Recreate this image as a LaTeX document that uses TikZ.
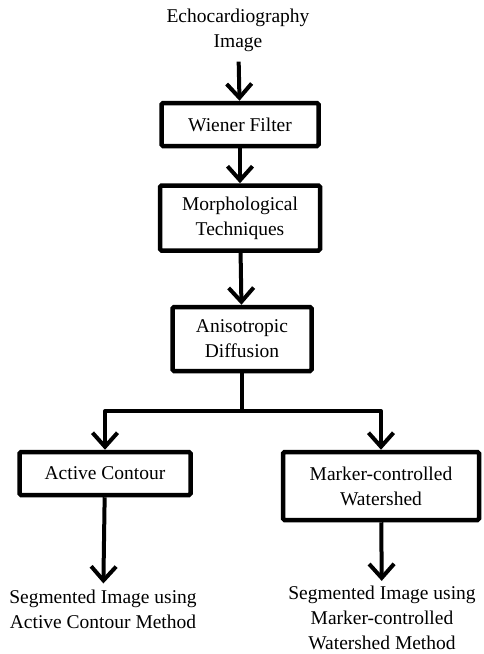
\documentclass[tikz,border=0pt]{standalone}
\usepackage{fontspec}
\setmainfont{LiberationSerif}[Extension=.ttf, UprightFont=*-Regular, BoldFont=*-Bold, ItalicFont=*-Italic, BoldItalicFont=*-BoldItalic]
\usetikzlibrary{arrows.meta}
\begin{document}
\begin{tikzpicture}[x=1pt,y=-1pt,
  every node/.style={font=\rmfamily\fontsize{19.5}{25}\selectfont, align=center},
  box/.style={draw, line width=4.5pt, rectangle, rounded corners=1.5pt, inner sep=0pt},
  plain/.style={inner sep=2pt},
  conn/.style={line width=4pt},
  arr/.style={conn, -{Straight Barb[length=14pt,width=25pt,line width=4pt]}}]
\useasboundingbox (0,0) rectangle (483,654);
\node[plain] (title) at (238,30) {Echocardiography\\Image};
\node[box, minimum width=157pt, minimum height=43pt] (wiener) at (240,124.5) {Wiener Filter};
\node[box, minimum width=160pt, minimum height=65pt] (morph) at (240,218) {Morphological\\Techniques};
\node[box, minimum width=139pt, minimum height=64pt] (aniso) at (242,339) {Anisotropic\\Diffusion};
\node[box, minimum width=171pt, minimum height=43pt] (active) at (105,473.5) {Active Contour};
\node[box, minimum width=196pt, minimum height=68pt] (marker) at (381,486) {Marker-controlled\\Watershed};
\node[plain] (out1) at (103,609) {Segmented Image using\\Active Contour Method};
\node[plain] (out2) at (382,618) {Segmented Image using\\Marker-controlled\\Watershed Method};
\coordinate (j) at (242,411);
\draw[arr, shorten <=8pt] (title) -- (wiener);
\draw[arr] (wiener) -- (morph);
\draw[arr] (morph) -- (aniso);
\draw[conn] (aniso.south) -- (j);
\draw[arr, line join=round] (j) -| (active.north);
\draw[arr, line join=round] (j) -| (marker.north);
\draw[arr, shorten >=4pt] (active) -- (out1);
\draw[arr, shorten >=3pt] (marker) -- (out2);
\end{tikzpicture}
\end{document}
